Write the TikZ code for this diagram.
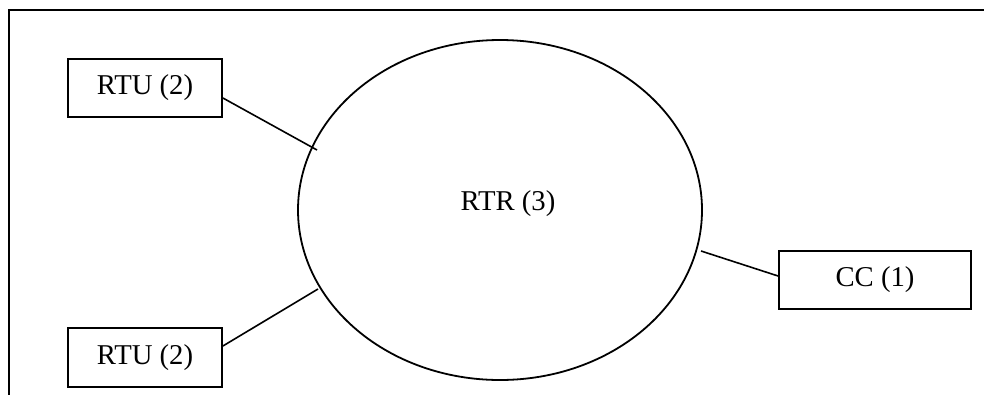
\documentclass[tikz,border=0pt]{standalone}
\usepackage{fontspec}
\setmainfont{Liberation Serif}
\usetikzlibrary{shapes.geometric,calc}
\begin{document}
\begin{tikzpicture}[x=1pt,y=-1pt,
  unitbox/.style={draw,line width=1.8pt,rectangle,inner sep=0pt,
    minimum width=154pt,minimum height=58pt,
    font=\fontsize{28.7}{34}\selectfont},
  ring/.style={draw,line width=1.8pt,ellipse,inner sep=0pt,
    minimum width=404pt,minimum height=340pt},
  label/.style={inner sep=0pt,font=\fontsize{28.7}{34}\selectfont},
  link/.style={line width=1.6pt}]
  \useasboundingbox (0,0) rectangle (984,394);
  \clip (0,0) rectangle (984,394);
  % outer frame, running past the right and bottom edges
  \draw[line width=2pt] (9,440) -- (9,10) -- (1010,10);
  % network ring and its caption
  \node[ring] (rtr) at (500,210) {};
  \node[label] (rtrtext) at (508,204) {RTR (3)};
  % terminal units and control centre
  \node[unitbox] (rtua) at (145,88) {RTU (2)};
  \node[unitbox,minimum height=59pt] (rtub) at (145,357.5) {RTU (2)};
  \node[unitbox,minimum width=192pt] (cc) at (875,280) {CC (1)};
  % links to the ring
  \draw[link] ([yshift=-10pt]rtua.east) -- ($(rtr.center)+(-183,-60)$);
  \draw[link] ([yshift=11.5pt]rtub.east) -- ($(rtr.center)+(-182,79)$);
  \draw[link] ([yshift=4pt]cc.west) -- ($(rtr.center)+(201,41)$);
\end{tikzpicture}
\end{document}
